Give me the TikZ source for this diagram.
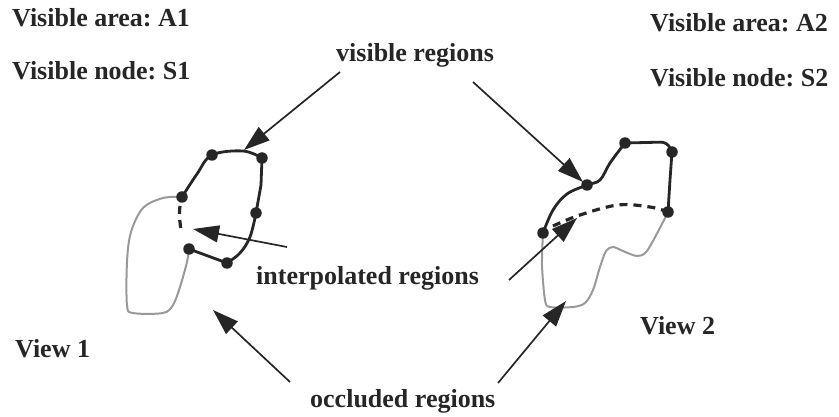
\documentclass[tikz,border=0pt]{standalone}
\usepackage{fontspec}
\setmainfont{Liberation Serif}
\usetikzlibrary{arrows.meta}
\definecolor{ink}{HTML}{262626}
\definecolor{occl}{HTML}{999999}
\frenchspacing
\begin{document}
\begin{tikzpicture}[x=1pt,y=-1pt,
  lbl/.style={font=\fontsize{26}{30}\selectfont\bfseries, text=ink, inner sep=0pt, anchor=base west},
  vis/.style={draw=ink, line width=2.8pt, line cap=round, line join=round},
  occ/.style={draw=occl, line width=2pt, line cap=round, line join=round},
  interp/.style={draw=ink, line width=3.2pt, dash pattern=on 8pt off 6pt},
  dot/.style={circle, fill=ink, inner sep=0pt, minimum size=11.5pt},
  ptr/.style={draw=ink, line width=1.7pt, -{Triangle[length=26pt,width=17pt]}},
]
\useasboundingbox (0,0) rectangle (839,417);

% labels
\node[lbl] (va1) at (12,27) {Visible area: A1};
\node[lbl] (vn1) at (12,80) {Visible node: S1};
\node[lbl] (va2) at (650,32) {Visible area: A2};
\node[lbl] (vn2) at (650,87) {Visible node: S2};
\node[lbl] (visr) at (336,62) {visible regions};
\node[lbl] (intr) at (256,284) {interpolated regions};
\node[lbl] (occr) at (310,407) {occluded regions};
\node[lbl] (v1) at (15,357) {View 1};
\node[lbl] (v2) at (640,334) {View 2};

% view 1 vertices
\coordinate (A) at (212,155);
\coordinate (B) at (262,158);
\coordinate (C) at (182,197);
\coordinate (D) at (256,213);
\coordinate (E) at (189,249);
\coordinate (F) at (227,263);

% view 1 occluded (gray)
\draw[occ] plot[smooth, tension=0.55] coordinates {(C) (163,198) (143,208) (131,232) (127,262) (127,305) (133,313) (163,313) (173,305) (180,287) (187,262) (E)};
% view 1 visible
\draw[vis] plot[smooth, tension=0.6] coordinates {(C) (197,174) (A) (243,151) (B)};
\draw[vis] (B) -- (261,185) -- (D);
\draw[vis] plot[smooth, tension=0.6] coordinates {(D) (250,237) (240,253) (F)};
\draw[vis] (F) -- (E);
% view 1 interpolated
\draw[interp] (180,206) .. controls (179,215) .. (181,230);

\foreach \p in {A,B,C,D,E,F} \node[dot] (d1\p) at (\p) {};

% view 2 vertices
\coordinate (T) at (543,233);
\coordinate (R) at (587,185);
\coordinate (P) at (625,143);
\coordinate (Q) at (672,152);
\coordinate (S) at (668,212);

% view 2 occluded
\draw[occ] plot[smooth, tension=0.5] coordinates {(S) (663,222) (647,251) (637,256) (623,251) (613,247) (606,251) (600,267) (593,290) (585,303) (573,307) (550,307) (545,300) (542,265) (T)};
% view 2 visible
\draw[vis] plot[smooth, tension=0.6] coordinates {(T) (553,210) (567,194) (R) (600,180) (610,163) (P)};
\draw[vis, rounded corners=6pt] (P) -- (667,142) -- (Q);
\draw[vis] (Q) -- (670,180) -- (S);
% view 2 interpolated
\draw[interp] plot[smooth, tension=0.6] coordinates {(553,226) (580,215) (618,205) (650,207) (S)};

\foreach \p in {T,R,P,Q,S} \node[dot] (d2\p) at (\p) {};

% pointer arrows
\coordinate (visLt) at (340,72);  \coordinate (visLh) at (244,150);
\coordinate (visRt) at (473,82);  \coordinate (visRh) at (583,182);
\coordinate (intLt) at (287,247); \coordinate (intLh) at (193,229);
\coordinate (intRt) at (509,280); \coordinate (intRh) at (577,218);
\coordinate (occLt) at (290,382); \coordinate (occLh) at (213,310);
\coordinate (occRt) at (498,383); \coordinate (occRh) at (566,301);
\draw[ptr] (visLt) -- (visLh);
\draw[ptr] (visRt) -- (visRh);
\draw[ptr] (intLt) -- (intLh);
\draw[ptr] (intRt) -- (intRh);
\draw[ptr] (occLt) -- (occLh);
\draw[ptr] (occRt) -- (occRh);
\end{tikzpicture}
\end{document}
